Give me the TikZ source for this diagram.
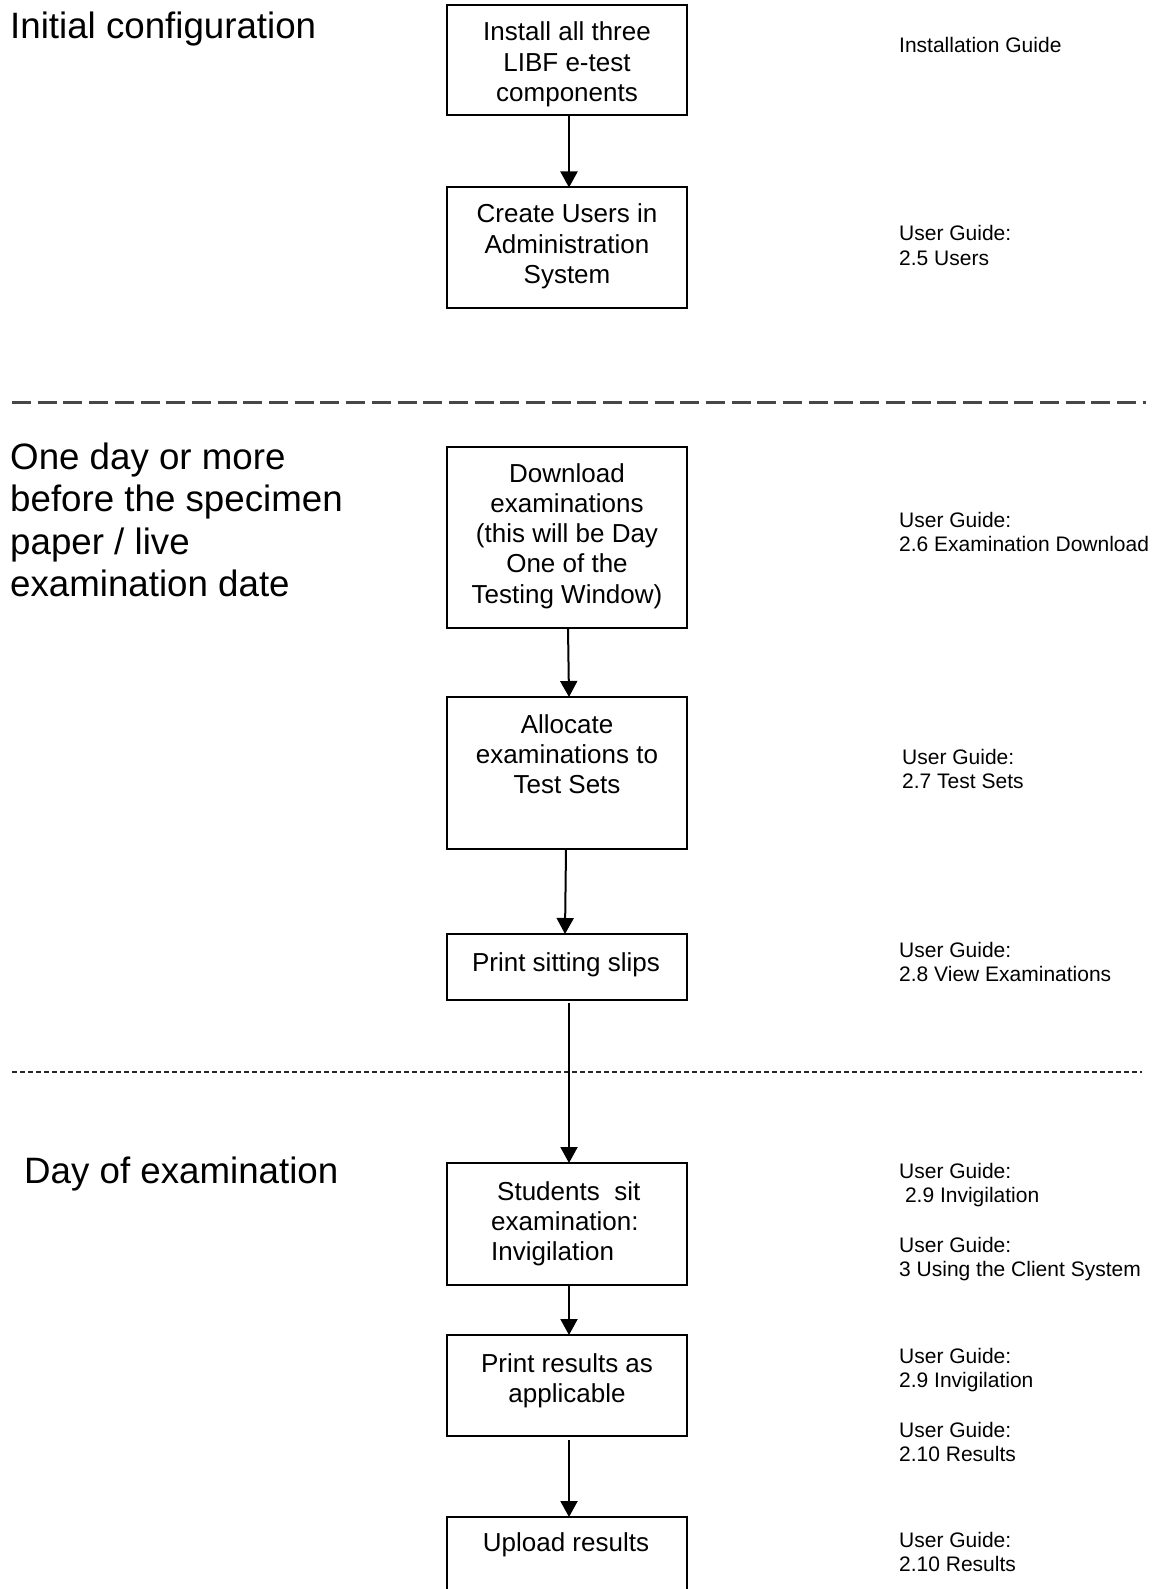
\documentclass[tikz,border=0pt]{standalone}
\usepackage{fontspec}
\setmainfont{Liberation Sans}
\usetikzlibrary{arrows.meta}
\newcommand\ctxt[1]{\parbox[t]{300pt}{\centering #1}}
\newcommand\ltxt[1]{\parbox[t]{400pt}{\raggedright #1}}
\begin{document}
\begin{tikzpicture}[x=1pt,y=-1pt,
  flowbox/.style={draw, line width=2pt, minimum width=240pt, inner sep=0pt, outer sep=0pt},
  boxtext/.style={inner sep=0pt, anchor=base, font=\fontsize{26}{30.3}\selectfont},
  boxtextl/.style={inner sep=0pt, anchor=base west, font=\fontsize{26}{30.3}\selectfont},
  headtext/.style={inner sep=0pt, anchor=base west, font=\fontsize{36.7}{42.5}\selectfont},
  reftext/.style={inner sep=0pt, anchor=base west, font=\fontsize{21}{24.4}\selectfont},
  flowarrow/.style={line width=2pt, -{Triangle[width=17pt,length=16pt]}},
  longdash/.style={line width=3pt, black!72, dash pattern=on 19pt off 6.7pt},
  shortdash/.style={line width=1.6pt, black!85, dash pattern=on 5.3pt off 2.7pt}
]
\useasboundingbox (0,0) rectangle (1153,1589);
\clip (0,0) rectangle (1153,1589);

% section separators
\coordinate (s1a) at (12,402);
\coordinate (s1b) at (1146,402);
\coordinate (s2a) at (12,1072);
\coordinate (s2b) at (1142,1072);
\draw[longdash] (s1a) -- (s1b);
\draw[shortdash] (s2a) -- (s2b);

% section headers
\node[headtext] (h1) at (10,38.5) {\ltxt{Initial configuration}};
\node[headtext] (h2) at (10,469) {\ltxt{One day or more\\before the specimen\\paper / live\\examination date}};
\node[headtext] (h3) at (24,1183) {\ltxt{Day of examination}};

% boxes
\node[flowbox, minimum height=110pt] (b1) at (567,60) {};
\node[flowbox, minimum height=120pt] (b2) at (567,247.5) {};
\node[flowbox, minimum height=181pt] (b3) at (567,537.5) {};
\node[flowbox, minimum height=152pt] (b4) at (567,773) {};
\node[flowbox, minimum height=66pt] (b5) at (567,967) {};
\node[flowbox, minimum height=122pt] (b6) at (567,1224) {};
\node[flowbox, minimum height=101pt] (b7) at (567,1385.5) {};
\node[flowbox, minimum height=110pt] (b8) at (567,1572) {};

% box texts
\node[boxtext] (t1) at (567,41) {\ctxt{Install all three\\LIBF e-test\\components}};
\node[boxtext] (t2) at (567,223) {\ctxt{Create Users in\\Administration\\System}};
\node[boxtext] (t3) at (567,482) {\ctxt{Download\\examinations\\(this will be Day\\One of the\\Testing Window)}};
\node[boxtext] (t4) at (567,733) {\ctxt{Allocate\\examinations to\\Test Sets}};
\node[boxtext] (t5) at (566,971) {\ctxt{Print sitting slips}};
\node[boxtextl] (t6) at (491,1200) {\ltxt{\hspace*{6pt}Students\ \ sit\\examination:\\Invigilation}};
\node[boxtext] (t7) at (567,1372) {\ctxt{Print results as\\applicable}};
\node[boxtext] (t8) at (566,1551) {\ctxt{Upload results}};

% reference texts
\node[reftext] (r1) at (899,53) {\ltxt{Installation Guide}};
\node[reftext] (r2) at (899,241) {\ltxt{User Guide:\\2.5 Users}};
\node[reftext] (r3) at (899,527) {\ltxt{User Guide:\\2.6 Examination Download}};
\node[reftext] (r4) at (902,764) {\ltxt{User Guide:\\2.7 Test Sets}};
\node[reftext] (r5) at (899,957) {\ltxt{User Guide:\\2.8 View Examinations}};
\node[reftext] (r6) at (899,1178) {\ltxt{User Guide:\\\hspace*{5.8pt}2.9 Invigilation}};
\node[reftext] (r7) at (899,1252) {\ltxt{User Guide:\\3 Using the Client System}};
\node[reftext] (r8) at (899,1363) {\ltxt{User Guide:\\2.9 Invigilation}};
\node[reftext] (r9) at (899,1437) {\ltxt{User Guide:\\2.10 Results}};
\node[reftext] (r10) at (899,1547) {\ltxt{User Guide:\\2.10 Results}};

% connectors
\draw[flowarrow] ([xshift=2pt]b1.south) -- ([xshift=2pt]b2.north);
\draw[flowarrow] ([xshift=1pt]b3.south) -- ([xshift=2pt]b4.north);
\draw[flowarrow] ([xshift=-1pt]b4.south) -- ([xshift=-2pt]b5.north);
\draw[flowarrow] ([xshift=2pt,yshift=-3pt]b5.south) -- ([xshift=2pt]b6.north);
\draw[flowarrow] ([xshift=2pt]b6.south) -- ([xshift=2pt]b7.north);
\draw[flowarrow] ([xshift=2pt,yshift=-4pt]b7.south) -- ([xshift=2pt]b8.north);
\end{tikzpicture}
\end{document}
